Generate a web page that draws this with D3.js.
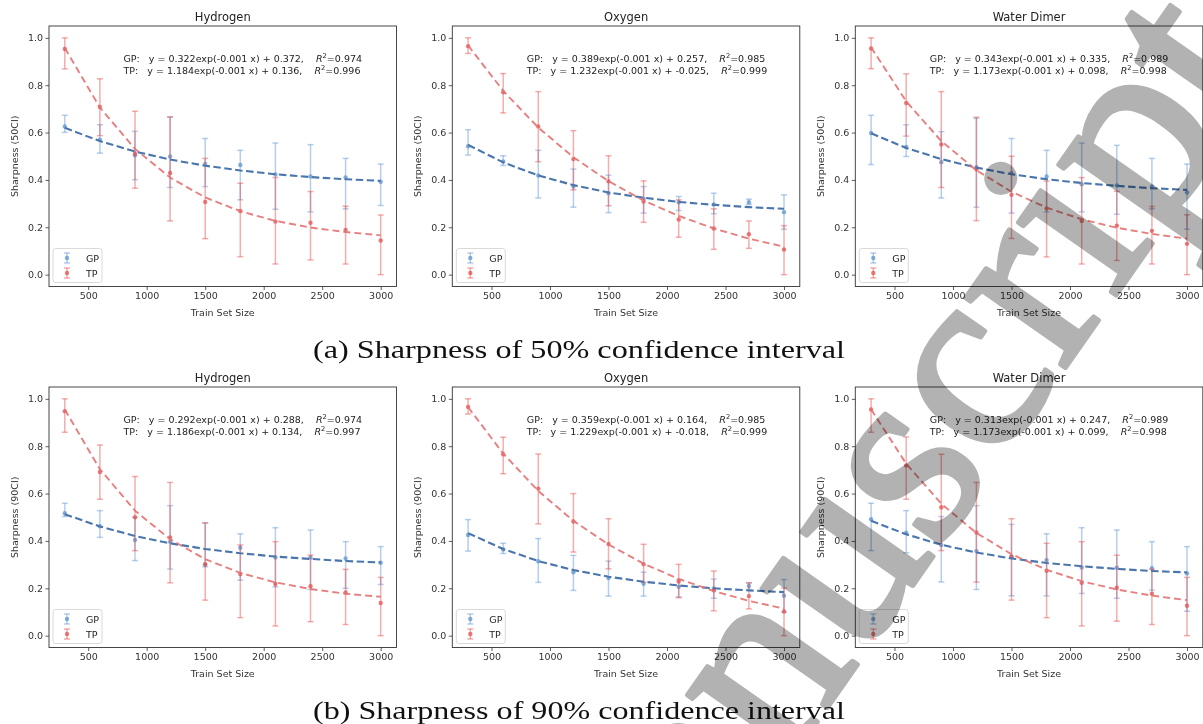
<!DOCTYPE html>
<html><head><meta charset="utf-8">
<script src="https://cdn.jsdelivr.net/npm/d3@7"></script>
<style>
html,body{margin:0;padding:0;background:#fff;}
svg{display:block;}
text{font-family:"DejaVu Sans",sans-serif;}
</style></head>
<body>
<svg id="chart" width="1203" height="724"></svg>
<script>
// ---------------- data ----------------
const trainSizes = [300,600,900,1200,1500,1800,2100,2400,2700,3000];
const xTicks = [500,1000,1500,2000,2500,3000];
const yTicks = [0,0.2,0.4,0.6,0.8,1.0];
const panelTitles = ["Hydrogen","Oxygen","Water Dimer","Hydrogen","Oxygen","Water Dimer"];
const yLabels = ["Sharpness (50CI)","Sharpness (50CI)","Sharpness (50CI)","Sharpness (90CI)","Sharpness (90CI)","Sharpness (90CI)"];
const seriesNames = ["GP","TP"];
const captions = ["(a) Sharpness of 50% confidence interval","(b) Sharpness of 90% confidence interval"];
const watermark = "manuscript";

// Hydrogen 50CI
const h50GpMean = [0.626,0.570,0.504,0.499,0.468,0.463,0.423,0.415,0.410,0.392];
const h50GpLo   = [0.601,0.513,0.401,0.368,0.372,0.316,0.276,0.265,0.278,0.292];
const h50GpHi   = [0.673,0.633,0.605,0.666,0.575,0.525,0.556,0.549,0.491,0.467];
const h50GpFit  = [0.620,0.564,0.520,0.486,0.460,0.440,0.424,0.412,0.403,0.396];
const h50TpMean = [0.953,0.708,0.511,0.429,0.307,0.269,0.224,0.219,0.189,0.144];
const h50TpLo   = [0.869,0.587,0.365,0.227,0.152,0.076,0.045,0.062,0.045,0.000];
const h50TpHi   = [1.000,0.827,0.690,0.666,0.491,0.386,0.410,0.351,0.289,0.252];
const h50TpFit  = [0.957,0.706,0.531,0.410,0.326,0.268,0.227,0.199,0.180,0.166];
// Oxygen 50CI
const o50GpMean = [0.542,0.478,0.419,0.372,0.344,0.320,0.306,0.296,0.306,0.264];
const o50GpLo   = [0.505,0.461,0.324,0.285,0.262,0.260,0.271,0.257,0.296,0.192];
const o50GpHi   = [0.612,0.502,0.525,0.446,0.420,0.372,0.330,0.344,0.319,0.337];
const o50GpFit  = [0.548,0.474,0.419,0.378,0.347,0.325,0.307,0.295,0.285,0.278];
const o50TpMean = [0.965,0.770,0.626,0.488,0.394,0.309,0.233,0.195,0.171,0.106];
const o50TpLo   = [0.934,0.683,0.477,0.358,0.291,0.221,0.158,0.107,0.111,0.000];
const o50TpHi   = [1.000,0.849,0.773,0.608,0.502,0.396,0.316,0.278,0.227,0.207];
const o50TpFit  = [0.968,0.776,0.621,0.496,0.395,0.313,0.248,0.195,0.152,0.118];
// Water Dimer 50CI
const w50GpMean = [0.598,0.539,0.475,0.454,0.429,0.415,0.382,0.377,0.372,0.347];
const w50GpLo   = [0.465,0.499,0.324,0.285,0.260,0.265,0.265,0.255,0.278,0.192];
const w50GpHi   = [0.673,0.633,0.604,0.660,0.575,0.525,0.556,0.546,0.491,0.467];
const w50GpFit  = [0.597,0.535,0.488,0.452,0.424,0.403,0.387,0.375,0.365,0.358];
const w50TpMean = [0.955,0.725,0.550,0.445,0.337,0.280,0.227,0.207,0.185,0.130];
const w50TpLo   = [0.870,0.585,0.368,0.228,0.153,0.075,0.045,0.060,0.045,0.000];
const w50TpHi   = [1.000,0.848,0.773,0.665,0.500,0.395,0.410,0.352,0.288,0.253];
const w50TpFit  = [0.960,0.732,0.564,0.441,0.350,0.283,0.234,0.198,0.172,0.152];
// Hydrogen 90CI
const h90GpMean = [0.517,0.462,0.404,0.397,0.300,0.371,0.330,0.330,0.326,0.308];
const h90GpLo   = [0.503,0.415,0.317,0.281,0.291,0.234,0.206,0.195,0.200,0.216];
const h90GpHi   = [0.559,0.528,0.500,0.549,0.475,0.430,0.456,0.446,0.397,0.376];
const h90GpFit  = [0.513,0.461,0.421,0.390,0.366,0.348,0.334,0.324,0.315,0.309];
const h90TpMean = [0.948,0.691,0.500,0.415,0.302,0.260,0.218,0.209,0.182,0.138];
const h90TpLo   = [0.859,0.576,0.359,0.223,0.150,0.076,0.041,0.059,0.047,0.000];
const h90TpHi   = [1.000,0.805,0.672,0.647,0.477,0.383,0.397,0.340,0.280,0.246];
const h90TpFit  = [0.955,0.703,0.528,0.407,0.323,0.265,0.225,0.197,0.177,0.164];
// Oxygen 90CI
const o90GpMean = [0.425,0.364,0.314,0.268,0.243,0.219,0.206,0.199,0.210,0.169];
const o90GpLo   = [0.357,0.347,0.225,0.191,0.167,0.167,0.164,0.158,0.195,0.099];
const o90GpHi   = [0.490,0.390,0.410,0.339,0.315,0.268,0.237,0.239,0.223,0.237];
const o90GpFit  = [0.433,0.366,0.315,0.277,0.249,0.228,0.212,0.200,0.191,0.184];
const o90TpMean = [0.966,0.766,0.621,0.482,0.387,0.302,0.229,0.192,0.167,0.102];
const o90TpLo   = [0.936,0.684,0.472,0.353,0.282,0.226,0.160,0.105,0.113,0.000];
const o90TpHi   = [1.000,0.838,0.767,0.600,0.494,0.386,0.301,0.273,0.223,0.201];
const o90TpFit  = [0.965,0.769,0.611,0.485,0.385,0.304,0.240,0.188,0.147,0.114];
// Water Dimer 90CI
const w90GpMean = [0.492,0.435,0.383,0.357,0.333,0.319,0.288,0.287,0.285,0.263];
const w90GpLo   = [0.359,0.350,0.227,0.195,0.168,0.168,0.178,0.158,0.192,0.103];
const w90GpHi   = [0.559,0.528,0.503,0.549,0.470,0.430,0.456,0.446,0.397,0.376];
const w90GpFit  = [0.485,0.428,0.384,0.351,0.326,0.307,0.293,0.282,0.273,0.267];
const w90TpMean = [0.955,0.719,0.542,0.436,0.333,0.274,0.223,0.202,0.177,0.126];
const w90TpLo   = [0.859,0.576,0.359,0.226,0.150,0.076,0.041,0.061,0.047,0.000];
const w90TpHi   = [1.000,0.839,0.766,0.647,0.494,0.390,0.397,0.340,0.280,0.246];
const w90TpFit  = [0.956,0.726,0.557,0.434,0.344,0.278,0.230,0.195,0.169,0.150];

// fit annotation texts
const gpEquations = ["y = 0.322exp(-0.001 x) + 0.372,","y = 0.389exp(-0.001 x) + 0.257,","y = 0.343exp(-0.001 x) + 0.335,",
                     "y = 0.292exp(-0.001 x) + 0.288,","y = 0.359exp(-0.001 x) + 0.164,","y = 0.313exp(-0.001 x) + 0.247,"];
const tpEquations = ["y = 1.184exp(-0.001 x) + 0.136,","y = 1.232exp(-0.001 x) + -0.025,","y = 1.173exp(-0.001 x) + 0.098,",
                     "y = 1.186exp(-0.001 x) + 0.134,","y = 1.229exp(-0.001 x) + -0.018,","y = 1.173exp(-0.001 x) + 0.099,"];
const gpR2 = ["0.974","0.985","0.989","0.974","0.985","0.989"];
const tpR2 = ["0.996","0.999","0.998","0.997","0.999","0.998"];

const panelSeries = [
  [[h50GpMean,h50GpLo,h50GpHi,h50GpFit],[h50TpMean,h50TpLo,h50TpHi,h50TpFit]],
  [[o50GpMean,o50GpLo,o50GpHi,o50GpFit],[o50TpMean,o50TpLo,o50TpHi,o50TpFit]],
  [[w50GpMean,w50GpLo,w50GpHi,w50GpFit],[w50TpMean,w50TpLo,w50TpHi,w50TpFit]],
  [[h90GpMean,h90GpLo,h90GpHi,h90GpFit],[h90TpMean,h90TpLo,h90TpHi,h90TpFit]],
  [[o90GpMean,o90GpLo,o90GpHi,o90GpFit],[o90TpMean,o90TpLo,o90TpHi,o90TpFit]],
  [[w90GpMean,w90GpLo,w90GpHi,w90GpFit],[w90TpMean,w90TpLo,w90TpHi,w90TpFit]]
];

// ---------------- layout / style ----------------
const colLeft = [49, 452.3, 855.3];
const axW = 347.5;
const rowTop = [26, 387];
const axH = 260.5;

const styles = {
  GP: {bar:"#5b93d3", dot:"#5f93cf", line:"#4a76ad", lw:2.1, dash:"7.5,3.5", lineOp:1},
  TP: {bar:"#e64a4a", dot:"#e35252", line:"#e37272", lw:1.9, dash:"7,4", lineOp:0.9}
};
const ink = "#333";
const fs = 9.5;

const svg = d3.select("#chart");

panelSeries.forEach((series, i) => {
  const col = i % 3, row = Math.floor(i / 3);
  const left = colLeft[col], top = rowTop[row];
  const x = d3.scaleLinear().domain([165, 3135]).range([left, left + axW]);
  const y = d3.scaleLinear().domain([-0.05, 1.05]).range([top + axH, top]);
  const g = svg.append("g");

  // axes
  const xa = g.append("g").attr("transform", `translate(0,${top + axH})`)
    .call(d3.axisBottom(x).tickValues(xTicks).tickFormat(d3.format("d")).tickSize(3.5).tickPadding(2.5));
  const ya = g.append("g").attr("transform", `translate(${left},0)`)
    .call(d3.axisLeft(y).tickValues(yTicks).tickFormat(d3.format(".1f")).tickSize(3.5).tickPadding(2.5));
  [xa, ya].forEach(a => {
    a.select(".domain").remove();
    a.selectAll("line").attr("stroke", ink).attr("stroke-width", 0.8);
    a.selectAll("text").attr("fill", ink).style("font-size", fs + "px").style("font-family", "DejaVu Sans");
  });

  // error bars, points
  series.forEach((s, k) => {
    const st = styles[seriesNames[k]];
    const [mean, lo, hi] = s;
    const eb = g.append("g").attr("stroke", st.bar).attr("stroke-opacity", 0.45).attr("stroke-width", 1.5);
    trainSizes.forEach((t, j) => {
      eb.append("line").attr("x1", x(t)).attr("x2", x(t)).attr("y1", y(lo[j])).attr("y2", y(hi[j]));
      eb.append("line").attr("x1", x(t) - 3).attr("x2", x(t) + 3).attr("y1", y(lo[j])).attr("y2", y(lo[j]));
      eb.append("line").attr("x1", x(t) - 3).attr("x2", x(t) + 3).attr("y1", y(hi[j])).attr("y2", y(hi[j]));
    });
    g.append("g").selectAll("circle").data(trainSizes).join("circle")
      .attr("cx", d => x(d)).attr("cy", (d, j) => y(mean[j])).attr("r", 2.2)
      .attr("fill", st.dot).attr("fill-opacity", 0.75);
  });
  // fitted lines
  series.forEach((s, k) => {
    const st = styles[seriesNames[k]];
    const fit = s[3];
    g.append("path").datum(trainSizes)
      .attr("d", d3.line().x(d => x(d)).y((d, j) => y(fit[j])))
      .attr("fill", "none").attr("stroke", st.line).attr("stroke-width", st.lw)
      .attr("stroke-dasharray", st.dash).attr("stroke-opacity", st.lineOp);
  });

  // frame
  g.append("rect").attr("x", left).attr("y", top).attr("width", axW).attr("height", axH)
    .attr("fill", "none").attr("stroke", ink).attr("stroke-width", 0.9);

  // title and labels
  g.append("text").attr("x", left + axW / 2).attr("y", top - 5).attr("text-anchor", "middle")
    .attr("fill", "#222").style("font-size", "11.5px").text(panelTitles[i]);
  g.append("text").attr("x", left + axW / 2).attr("y", top + axH + 29).attr("text-anchor", "middle")
    .attr("fill", ink).style("font-size", fs + "px").text("Train Set Size");
  g.append("text").attr("transform", `translate(${left - 31},${top + axH / 2}) rotate(-90)`)
    .attr("text-anchor", "middle").attr("fill", ink).style("font-size", fs + "px").text(yLabels[i]);

  // annotation
  const ann = [[ "GP:   " + gpEquations[i], gpR2[i] ], [ "TP:   " + tpEquations[i], tpR2[i] ]];
  ann.forEach((a, k) => {
    const t = g.append("text").attr("x", left + 74.5).attr("y", top + 35.5 + k * 12)
      .attr("fill", "#222").style("font-size", fs + "px").style("white-space", "pre");
    t.append("tspan").text(a[0] + "    ");
    t.append("tspan").attr("font-style", "italic").text("R");
    t.append("tspan").attr("dy", -3.5).style("font-size", "6.7px").text("2");
    t.append("tspan").attr("dy", 3.5).text("=" + a[1]);
  });

  // legend
  const lg = g.append("g").attr("transform", `translate(${left + 4},${top + axH - 38})`);
  lg.append("rect").attr("width", 49).attr("height", 34).attr("rx", 2.5)
    .attr("fill", "#fff").attr("fill-opacity", 0.8).attr("stroke", "#d0d0d0").attr("stroke-width", 0.8);
  seriesNames.forEach((n, k) => {
    const st = styles[n];
    const cy = 9.5 + k * 15, cx = 14;
    const e = lg.append("g").attr("stroke", st.bar).attr("stroke-opacity", 0.45).attr("stroke-width", 1.5);
    e.append("line").attr("x1", cx).attr("x2", cx).attr("y1", cy - 5).attr("y2", cy + 5);
    e.append("line").attr("x1", cx - 3).attr("x2", cx + 3).attr("y1", cy - 5).attr("y2", cy - 5);
    e.append("line").attr("x1", cx - 3).attr("x2", cx + 3).attr("y1", cy + 5).attr("y2", cy + 5);
    lg.append("circle").attr("cx", cx).attr("cy", cy).attr("r", 2.2).attr("fill", st.dot).attr("fill-opacity", 0.75);
    lg.append("text").attr("x", 33).attr("y", cy + 3.5).attr("fill", "#222").style("font-size", fs + "px").text(n);
  });
});

// captions
captions.forEach((c, k) => {
  svg.append("text").attr("x", 313).attr("y", 358 + k * 361)
    .attr("textLength", 532).attr("lengthAdjust", "spacingAndGlyphs")
    .style("font-family", "Liberation Serif, serif").style("font-size", "25px").attr("fill", "#111").text(c);
});

// watermark
svg.append("text").attr("transform", "translate(598,1035) rotate(-55)")
  .style("font-family", "Liberation Serif, serif").style("font-size", "265px")
  .attr("fill", "#b2b2b2").attr("stroke", "#b2b2b2").attr("stroke-width", 5).attr("stroke-linejoin", "round")
  .style("mix-blend-mode", "multiply").text(watermark);
</script>
</body></html>
